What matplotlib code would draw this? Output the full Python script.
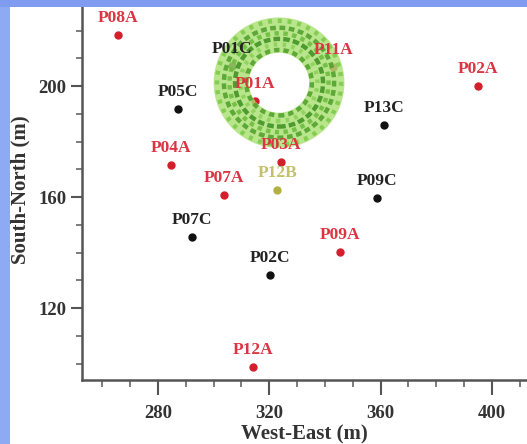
import matplotlib
matplotlib.use("Agg")
import matplotlib.pyplot as plt
from matplotlib.patches import Circle, Wedge, Rectangle
from matplotlib.ticker import MultipleLocator

# station names, positions (m) and groups
names = ["P08A", "P05C", "P04A", "P07A", "P07C", "P02C", "P12A", "P09A",
         "P09C", "P13C", "P02A", "P01A", "P03A", "P12B", "P01C", "P11A"]
west_east = [265.6, 287.2, 284.7, 303.7, 292.2, 320.2, 314.1, 345.4,
             358.7, 361.2, 395.0, 314.9, 324.2, 322.8, 306.6, 342.9]
south_north = [218.4, 191.7, 171.5, 160.7, 145.6, 131.9, 98.7, 140.2,
               159.6, 185.9, 200.0, 194.6, 172.6, 162.5, 207.2, 206.8]
kinds = ["A", "C", "A", "A", "C", "C", "A", "A",
         "C", "C", "A", "A", "A", "B", "C", "A"]

# ring of trees around the centre
ring_center = (323.5, 201.2)
ring_inner = 10.8
ring_outer = 23.5

dot_colors = {"A": "#d31f2c", "C": "#111111", "B": "#b4b040"}
text_colors = {"A": "#dc3442", "C": "#222222", "B": "#c2c068"}

plt.rcParams["font.family"] = ["Liberation Serif", "DejaVu Serif"]

fig = plt.figure(figsize=(5.27, 4.44), dpi=100)
ax = fig.add_axes([82 / 527, 64 / 444, 1 - 82 / 527, 1 - 64 / 444])

ax.set_xlim(252.7, 412.6)
ax.set_ylim(94.1, 231.0)

for n in range(len(names)):
    ax.plot(west_east[n], south_north[n], marker="o", markersize=5,
            color=dot_colors[kinds[n]], linestyle="none", zorder=3)
    ax.annotate(names[n], (west_east[n], south_north[n]), xytext=(0, 12.5),
                textcoords="offset points", ha="center", va="center",
                fontsize=12.5, fontweight="bold", color=text_colors[kinds[n]],
                zorder=8)

# the green ring: a light band with darker dotted circles on top
ax.add_patch(Wedge(ring_center, ring_outer, 0, 360, width=ring_outer - ring_inner,
                   facecolor="#a8e070", edgecolor="none", alpha=0.8, zorder=5))
radii = [ring_inner + 1.0, ring_inner + 3.0, ring_inner + 5.0, ring_inner + 7.0,
         ring_inner + 9.0, ring_outer - 1.2]
shades = ["#4e9e2a", "#8cd058", "#3c8f20", "#6cba3c", "#4e9e2a", "#7cc848"]
dashes = [(0, (1.2, 0.9)), (0.5, (0.8, 1.2)), (0, (1.5, 0.7)),
          (1.0, (1.0, 1.0)), (0.3, (1.3, 0.8)), (0.8, (0.9, 1.3))]
for r, c, d in zip(radii, shades, dashes):
    ax.add_patch(Circle(ring_center, r, fill=False, edgecolor=c, linewidth=3.2,
                        linestyle=d, alpha=0.85, zorder=6))

ax.xaxis.set_major_locator(MultipleLocator(40))
ax.xaxis.set_minor_locator(MultipleLocator(10))
ax.yaxis.set_major_locator(MultipleLocator(40))
ax.yaxis.set_minor_locator(MultipleLocator(10))

for side in ["top", "right"]:
    ax.spines[side].set_visible(False)
for side in ["left", "bottom"]:
    ax.spines[side].set_color("#555555")
    ax.spines[side].set_linewidth(1.8)

ax.tick_params(axis="x", which="major", length=11, width=1.5, color="#555555", pad=7)
ax.tick_params(axis="x", which="minor", length=5, width=1.2, color="#666666")
ax.tick_params(axis="y", which="major", length=8, width=1.5, color="#555555", pad=3)
ax.tick_params(axis="y", which="minor", length=4, width=1.2, color="#666666")
ax.tick_params(which="major", labelsize=13.5, labelcolor="#333333")
for lab in ax.get_xticklabels() + ax.get_yticklabels():
    lab.set_fontweight("bold")

ax.set_xlabel("West-East (m)", fontsize=15, fontweight="bold", color="#333333", labelpad=2)
ax.set_ylabel("South-North (m)", fontsize=15, fontweight="bold", color="#333333", labelpad=6)

# blue frame strips on the top and left edge
fig.patches.append(Rectangle((0, 0), 10 / 527, 1, transform=fig.transFigure,
                             facecolor="#8eaaf4", edgecolor="none", zorder=10))
fig.patches.append(Rectangle((0, 1 - 7 / 444), 1, 7 / 444, transform=fig.transFigure,
                             facecolor="#7f9cf0", edgecolor="none", zorder=10))

fig.savefig("out.png", dpi=100)
